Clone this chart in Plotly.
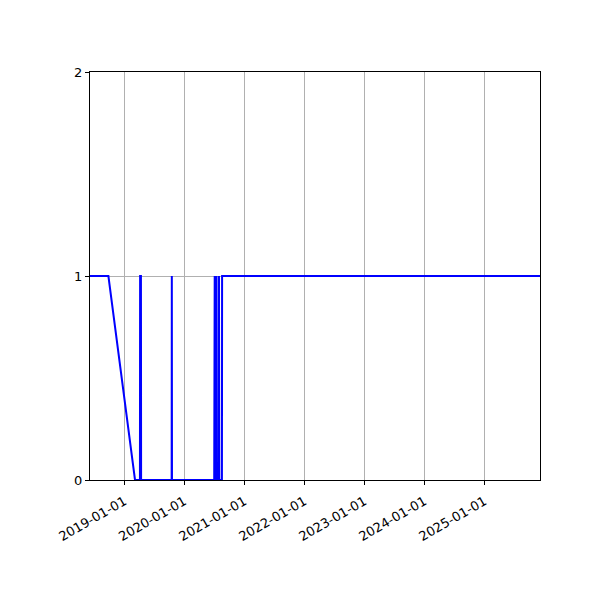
import plotly.graph_objects as go

# status samples (1 = on, 0 = off)
dates = [
    "2018-06-06", "2018-09-26", "2019-03-07",
    "2019-04-06", "2019-04-07", "2019-04-12", "2019-04-13",
    "2019-10-16", "2019-10-17", "2019-10-18",
    "2020-07-01", "2020-07-02", "2020-07-04", "2020-07-05",
    "2020-07-14", "2020-07-15", "2020-07-17",
    "2020-07-29", "2020-07-30", "2020-08-01",
    "2020-08-17", "2020-08-18", "2025-12-05",
]
status = [
    1, 1, 0,
    0, 1, 1, 0,
    0, 1, 0,
    0, 1, 1, 0,
    0, 1, 0,
    0, 1, 0,
    0, 1, 1,
]
y_ticks = [0, 1, 2]
x_ticks = ["2019-01-01", "2020-01-01", "2021-01-01", "2022-01-01",
           "2023-01-01", "2024-01-01", "2025-01-01"]

fig = go.Figure()
fig.add_trace(go.Scatter(x=dates, y=status, mode="lines",
                         line=dict(color="#0000ff", width=2), showlegend=False))

axis_style = dict(showline=True, linecolor="black", linewidth=1, mirror=True,
                  ticks="outside", ticklen=4, tickcolor="black",
                  showgrid=True, gridcolor="#b0b0b0", gridwidth=1, zeroline=False)

fig.update_xaxes(type="date", range=["2018-06-06", "2025-12-05"],
                 tickvals=x_ticks, ticktext=x_ticks, tickangle=-30,
                 ticklabelstandoff=4, **axis_style)
fig.update_yaxes(range=[0, 2], tickvals=y_ticks, **axis_style)
fig.update_layout(
    width=600, height=600,
    margin=dict(l=82, r=68, t=64, b=128),
    plot_bgcolor="white", paper_bgcolor="white",
    font=dict(family="DejaVu Sans", size=13, color="black"),
)
fig.write_html("out.html")
